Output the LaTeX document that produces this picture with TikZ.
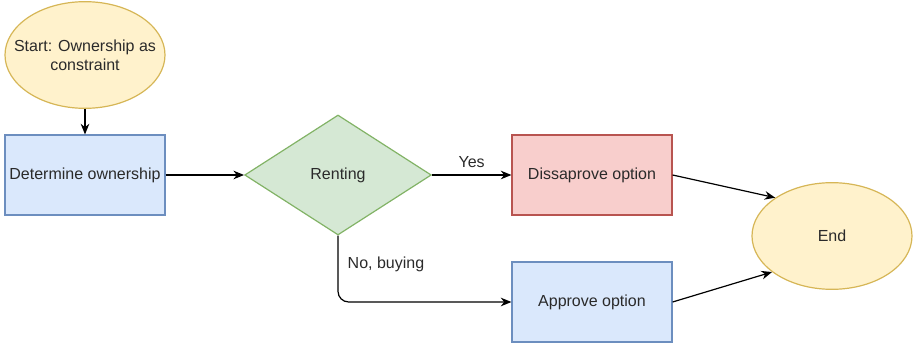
\documentclass[tikz,border=0pt]{standalone}
\usepackage{fontspec}
\setmainfont{Liberation Sans}
\usetikzlibrary{shapes.geometric,arrows.meta}
\definecolor{bluefill}{HTML}{DAE8FC}\definecolor{blueline}{HTML}{6C8EBF}
\definecolor{greenfill}{HTML}{D5E8D4}\definecolor{greenline}{HTML}{82B366}
\definecolor{redfill}{HTML}{F8CECC}\definecolor{redline}{HTML}{B85450}
\definecolor{yellowfill}{HTML}{FFF2CC}\definecolor{yellowline}{HTML}{D6B656}
\definecolor{labeltext}{HTML}{2A2A2A}

\begin{document}
\begin{tikzpicture}[x=0.75pt, y=-0.75pt, font=\fontsize{12pt}{14.5pt}\selectfont, text=labeltext,
	box/.style={draw, line width=0.9pt, minimum width=120pt, minimum height=60pt, inner sep=2pt},
	oval/.style={ellipse, draw=yellowline, fill=yellowfill, line width=0.9pt, minimum width=120pt, minimum height=80pt, inner xsep=-11pt, inner ysep=0pt, align=center},
	link/.style={line width=0.9pt, -{Stealth[length=8pt,width=6.5pt]}}]
			%%%%% START %%%%%
			
			\useasboundingbox (0, 0) rectangle (915, 345);
			
			\node[oval] (start) at (85, 55) {Start: Ownership as\\constraint};
			\node[box, draw=blueline, fill=bluefill] (own) at (85, 175) {Determine ownership};
			\node[diamond, draw=greenline, fill=greenfill, line width=0.9pt, minimum width=140pt, minimum height=90pt, aspect=1.56, inner sep=0pt] (rent) at (338, 175) {Renting};
			\node[box, draw=redline, fill=redfill] (deny) at (592, 175) {Dissaprove option};
			\node[box, draw=blueline, fill=bluefill] (ok) at (592, 302) {Approve option};
			\node[oval] (end) at (832, 236) {End};
			
			\draw[link] (start) -- (own);
			\draw[link] (own) -- (rent);
			\draw[link] (rent) -- node[above, pos=0.5, yshift=2pt] {Yes} (deny);
			\draw[link, rounded corners=8pt] (rent.south) |- (ok.west);
			\node[anchor=west] (nolabel) at (343, 264) {No, buying};
			
			\draw[link] (deny.east) -- (end.146);
			\draw[link] (ok.east) -- (end.211);
			
			%%%%% END %%%%%
\end{tikzpicture}
\end{document}
